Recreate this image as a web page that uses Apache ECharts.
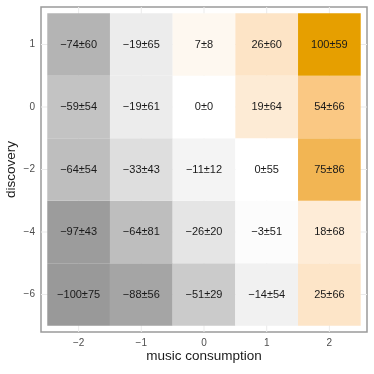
<!DOCTYPE html>
<html>
<head>
<meta charset="utf-8">
<script src="https://cdn.jsdelivr.net/npm/echarts@6/dist/echarts.min.js"></script>
<style>
  html, body { margin: 0; padding: 0; background: #fff; }
  #chart { width: 374px; height: 374px; }
</style>
</head>
<body>
<div id="chart"></div>
<script>
// categories
const xCats = ['-2', '-1', '0', '1', '2'];
const yCats = ['-6', '-4', '-2', '0', '1'];
// mean values, rows follow yCats (bottom to top), columns follow xCats
const means = [
  [-100, -88, -51, -14, 25],
  [-97, -64, -26, -3, 18],
  [-64, -33, -11, 0, 75],
  [-59, -19, 0, 19, 54],
  [-74, -19, 7, 26, 100]
];
const sds = [
  [75, 56, 29, 54, 66],
  [43, 81, 20, 51, 68],
  [54, 43, 12, 55, 86],
  [54, 61, 0, 64, 66],
  [60, 65, 8, 60, 59]
];

const minus = '\u2212';
const fmt = v => (v < 0 ? minus + Math.abs(v) : String(v));
const FONT = 'Liberation Sans, Arial, sans-serif';

const data = [];
yCats.forEach((yc, yi) => {
  xCats.forEach((xc, xi) => {
    data.push([xi - 2, yi, means[yi][xi], sds[yi][xi]]);
  });
});

const chart = echarts.init(document.getElementById('chart'), null, { renderer: 'canvas' });

chart.setOption({
  animation: false,
  backgroundColor: '#ffffff',
  grid: {
    left: 41, right: 7, top: 7, bottom: 42,
    outerBoundsMode: 'none',
    containLabel: false,
    show: true, borderColor: '#9a9a9a', borderWidth: 1.5, backgroundColor: '#fff'
  },
  visualMap: {
    show: false,
    type: 'continuous',
    min: -100, max: 100,
    dimension: 2,
    // grey -> white -> orange, stops every 25
    inRange: {
      color: ['#999999', '#b3b3b3', '#cccccc', '#e6e6e6', '#ffffff',
              '#fde5c8', '#fbcc8c', '#f2b553', '#e69f00']
    }
  },
  xAxis: {
    type: 'value',
    min: -2.6, max: 2.6,
    name: 'music consumption',
    nameLocation: 'middle',
    nameGap: 17,
    nameMoveOverlap: false,
    nameTextStyle: { color: '#1a1a1a', fontSize: 13.5, fontFamily: FONT },
    axisLine: { show: false },
    axisTick: { show: true, length: 4, customValues: [-2, -1, 0, 1, 2], lineStyle: { color: '#9a9a9a' } },
    axisLabel: {
      customValues: [-2, -1, 0, 1, 2],
      color: '#4d4d4d', fontSize: 10, margin: 6, fontFamily: FONT,
      formatter: v => fmt(Number(xCats[Math.round(v) + 2]))
    },
    splitLine: { show: false }
  },
  yAxis: {
    type: 'value',
    min: -0.6, max: 4.6,
    name: 'discovery',
    nameLocation: 'middle',
    nameGap: 23,
    nameMoveOverlap: false,
    nameRotate: 90,
    nameTextStyle: { color: '#1a1a1a', fontSize: 13.5, fontFamily: FONT },
    axisLine: { show: false },
    axisTick: { show: true, length: 4, customValues: [0, 1, 2, 3, 4], lineStyle: { color: '#9a9a9a' } },
    axisLabel: {
      customValues: [0, 1, 2, 3, 4],
      color: '#4d4d4d', fontSize: 10, margin: 6, fontFamily: FONT,
      formatter: v => fmt(Number(yCats[Math.round(v)]))
    },
    splitLine: { show: false }
  },
  series: [
    {
      // faint panel grid lines at category centres
      type: 'custom',
      silent: true,
      z: 1,
      renderItem: (params, api) => {
        const cs = params.coordSys;
        const children = [];
        [-2, -1, 0, 1, 2].forEach(v => {
          const p = api.coord([v, 0]);
          children.push({ type: 'line', shape: { x1: p[0], y1: cs.y, x2: p[0], y2: cs.y + cs.height }, style: { stroke: '#ebebeb', lineWidth: 1 } });
        });
        [0, 1, 2, 3, 4].forEach(v => {
          const p = api.coord([0, v]);
          children.push({ type: 'line', shape: { x1: cs.x, y1: p[1], x2: cs.x + cs.width, y2: p[1] }, style: { stroke: '#ebebeb', lineWidth: 1 } });
        });
        return { type: 'group', children };
      },
      data: [[0, 0]]
    },
    {
      type: 'custom',
      z: 2,
      encode: { x: 0, y: 1 },
      renderItem: (params, api) => {
        const x = api.value(0), y = api.value(1);
        const p0 = api.coord([x - 0.5, y + 0.5]);
        const p1 = api.coord([x + 0.5, y - 0.5]);
        const c = api.coord([x, y]);
        const m = api.value(2), s = api.value(3);
        return {
          type: 'group',
          children: [
            {
              type: 'rect',
              shape: { x: p0[0], y: p0[1], width: p1[0] - p0[0], height: p1[1] - p0[1] },
              style: { fill: api.visual('color') }
            },
            {
              type: 'text',
              style: {
                x: c[0], y: c[1],
                text: fmt(m) + '\u00b1' + s,
                align: 'center', verticalAlign: 'middle',
                fill: '#1a1a1a', fontSize: 11, fontFamily: FONT
              }
            }
          ]
        };
      },
      data: data
    }
  ]
});
</script>
</body>
</html>
